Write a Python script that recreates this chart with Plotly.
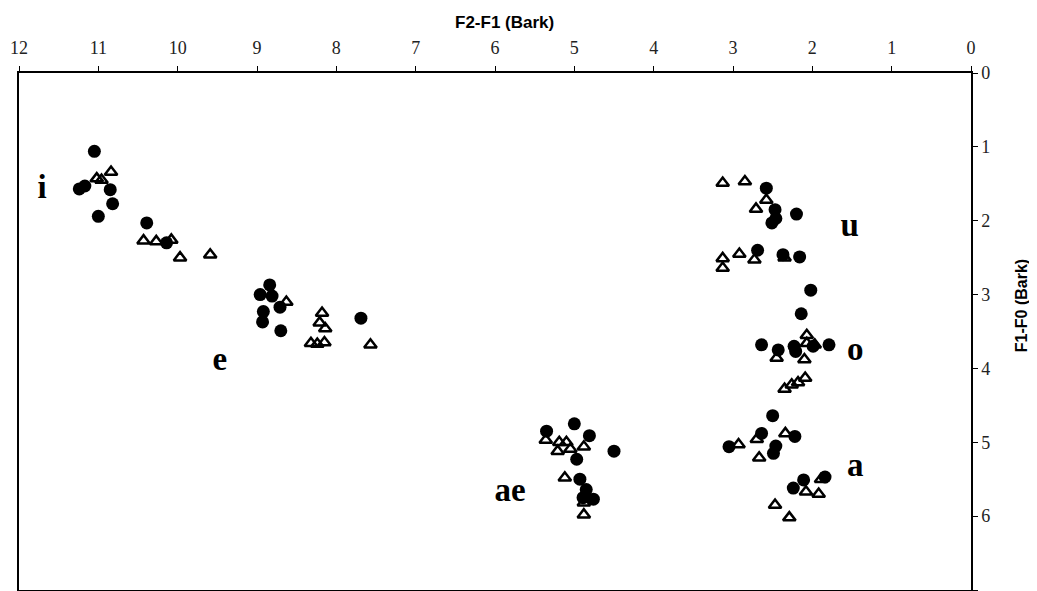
import plotly.graph_objects as go

# Filled circles (F2-F1, F1-F0) in Bark
circle_x = [11.05, 11.24, 11.17, 10.85, 10.82, 11.00, 10.39, 10.14,
            8.84, 8.96, 8.81, 8.71, 8.92, 8.93, 8.70, 7.69,
            5.00, 5.35, 4.81, 4.50, 4.97, 4.93, 4.85, 4.76, 4.89,
            2.58, 2.47, 2.46, 2.51, 2.20, 2.69, 2.37, 2.16, 2.02,
            2.14, 2.64, 2.43, 2.23, 2.21, 1.99, 1.79,
            2.50, 2.64, 3.05, 2.46, 2.49, 2.22, 2.11, 2.24, 1.84]
circle_y = [1.06, 1.57, 1.53, 1.58, 1.77, 1.94, 2.03, 2.30,
            2.87, 3.00, 3.02, 3.17, 3.23, 3.37, 3.49, 3.32,
            4.75, 4.85, 4.91, 5.12, 5.23, 5.50, 5.64, 5.77, 5.75,
            1.56, 1.85, 1.97, 2.03, 1.91, 2.40, 2.46, 2.49, 2.94,
            3.26, 3.68, 3.75, 3.70, 3.77, 3.70, 3.68,
            4.64, 4.88, 5.06, 5.05, 5.15, 4.92, 5.51, 5.62, 5.47]

# Open triangles
tri_x = [11.02, 10.96, 10.84, 10.43, 10.27, 10.08, 9.97, 9.59,
         8.63, 8.18, 8.21, 8.14, 8.32, 8.24, 8.15, 7.57,
         5.36, 5.19, 5.21, 5.10, 5.05, 4.88, 5.12, 4.88, 4.88,
         3.13, 2.85, 2.58, 2.71, 3.13, 3.13, 2.92, 2.73, 2.35,
         2.07, 2.07, 1.97, 2.45, 2.10, 2.09, 2.18, 2.26, 2.35,
         2.93, 2.70, 2.34, 2.67, 2.08, 1.92, 1.89, 2.47, 2.29]
tri_y = [1.43, 1.45, 1.34, 2.27, 2.28, 2.26, 2.50, 2.46,
         3.10, 3.25, 3.38, 3.46, 3.66, 3.67, 3.65, 3.68,
         4.97, 5.00, 5.12, 5.00, 5.09, 5.06, 5.48, 5.82, 5.98,
         1.49, 1.47, 1.72, 1.84, 2.51, 2.64, 2.45, 2.53, 2.50,
         3.55, 3.66, 3.68, 3.86, 3.88, 4.13, 4.19, 4.22, 4.28,
         5.03, 4.96, 4.88, 5.21, 5.67, 5.70, 5.50, 5.85, 6.02]

vowel_labels = ["i", "e", "ae", "u", "o", "a"]
vowel_x = [11.71, 9.47, 5.81, 1.53, 1.46, 1.46]
vowel_y = [1.58, 3.91, 5.68, 2.10, 3.78, 5.35]

x_ticks = list(range(0, 13))
y_ticks = list(range(0, 8))

fig = go.Figure()
fig.add_trace(go.Scatter(
    x=circle_x, y=circle_y, mode="markers",
    marker=dict(symbol="circle", size=13, color="black"),
    showlegend=False))
fig.add_trace(go.Scatter(
    x=tri_x, y=tri_y, mode="markers",
    marker=dict(symbol="triangle-up-open", size=11, color="black",
                line=dict(width=2.5, color="black")),
    showlegend=False))
fig.add_trace(go.Scatter(
    x=vowel_x, y=vowel_y, mode="text",
    text=["<b>" + s + "</b>" for s in vowel_labels],
    textfont=dict(family="Liberation Serif", size=33, color="black"),
    showlegend=False))

tickfont = dict(family="Liberation Serif", size=18, color="#222")
fig.update_xaxes(
    side="top", range=[12, 0], tickvals=x_ticks, ticktext=[str(v) for v in x_ticks],
    showgrid=False, zeroline=False, showline=True, linecolor="black", linewidth=1.5,
    mirror=True, ticks="outside", ticklen=5, tickcolor="black", tickfont=tickfont,
    ticklabelstandoff=5, automargin=False)
fig.update_yaxes(
    side="right", range=[7, 0], tickvals=y_ticks, ticktext=[str(v) for v in y_ticks],
    showgrid=False, zeroline=False, showline=True, linecolor="black", linewidth=1.5,
    mirror=True, ticks="outside", ticklen=5, tickcolor="black", tickfont=tickfont,
    automargin=False)

fig.add_annotation(text="<b>F2-F1 (Bark)</b>", xref="paper", yref="paper",
                   x=0.51, y=1, yshift=62, showarrow=False,
                   font=dict(family="Liberation Sans", size=17, color="black"))
fig.add_annotation(text="<b>F1-F0 (Bark)</b>", xref="paper", yref="paper",
                   x=1, xshift=61, y=0.55, textangle=-90, showarrow=False,
                   font=dict(family="Liberation Sans", size=16, color="black"))

# page body adds an 8px offset; compensate so the plot frame lands at 19..971 x 73..590
fig.update_layout(
    width=1029, height=583,
    margin=dict(l=11, r=66, t=65, b=1, autoexpand=False),
    paper_bgcolor="white", plot_bgcolor="white",
    font=dict(family="Liberation Serif"))

fig.write_html("out.html")
